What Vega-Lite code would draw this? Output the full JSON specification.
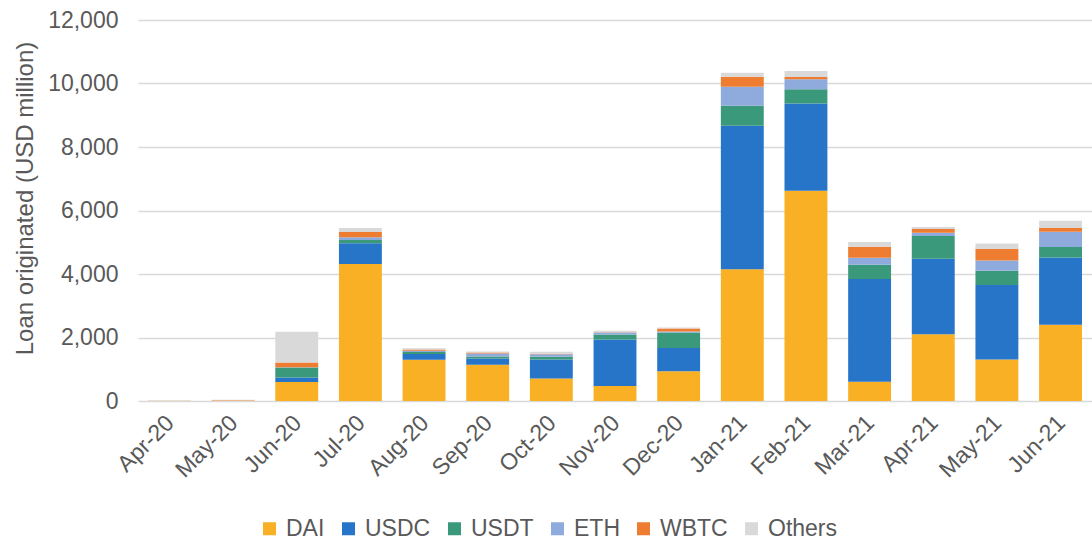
{
  "$schema": "https://vega.github.io/schema/vega-lite/v6.json",
  "autosize": {"type": "none"},
  "padding": {"left": 138, "top": 20, "right": 0, "bottom": 141},
  "width": 954,
  "height": 381,
  "background": "white",
  "config": {
    "view": {"stroke": null},
    "font": "Liberation Sans",
    "axis": {"labelFont": "Liberation Sans", "titleFont": "Liberation Sans", "labelColor": "#595959", "titleColor": "#595959"},
    "legend": {"labelFont": "Liberation Sans"}
  },
  "data": {
    "values": [
      {"month": "Apr-20", "DAI": 5, "USDC": 0, "USDT": 0, "ETH": 0, "WBTC": 0, "Others": 15},
      {"month": "May-20", "DAI": 5, "USDC": 0, "USDT": 0, "ETH": 0, "WBTC": 15, "Others": 20},
      {"month": "Jun-20", "DAI": 600, "USDC": 137, "USDT": 316, "ETH": 10, "WBTC": 150, "Others": 970},
      {"month": "Jul-20", "DAI": 4315, "USDC": 650, "USDT": 105, "ETH": 85, "WBTC": 170, "Others": 125},
      {"month": "Aug-20", "DAI": 1300, "USDC": 180, "USDT": 60, "ETH": 45, "WBTC": 40, "Others": 35},
      {"month": "Sep-20", "DAI": 1140, "USDC": 200, "USDT": 60, "ETH": 100, "WBTC": 30, "Others": 30},
      {"month": "Oct-20", "DAI": 710, "USDC": 600, "USDT": 85, "ETH": 75, "WBTC": 15, "Others": 70},
      {"month": "Nov-20", "DAI": 470, "USDC": 1470, "USDT": 155, "ETH": 60, "WBTC": 10, "Others": 45},
      {"month": "Dec-20", "DAI": 940, "USDC": 730, "USDT": 490, "ETH": 30, "WBTC": 95, "Others": 30},
      {"month": "Jan-21", "DAI": 4150, "USDC": 4520, "USDT": 630, "ETH": 600, "WBTC": 315, "Others": 125},
      {"month": "Feb-21", "DAI": 6620, "USDC": 2750, "USDT": 450, "ETH": 315, "WBTC": 70, "Others": 190},
      {"month": "Mar-21", "DAI": 610, "USDC": 3230, "USDT": 450, "ETH": 220, "WBTC": 350, "Others": 150},
      {"month": "Apr-21", "DAI": 2100, "USDC": 2380, "USDT": 715, "ETH": 105, "WBTC": 115, "Others": 65},
      {"month": "May-21", "DAI": 1310, "USDC": 2340, "USDT": 450, "ETH": 325, "WBTC": 365, "Others": 170},
      {"month": "Jun-21", "DAI": 2400, "USDC": 2120, "USDT": 330, "ETH": 480, "WBTC": 115, "Others": 230}
    ]
  },
  "transform": [
    {"fold": ["DAI", "USDC", "USDT", "ETH", "WBTC", "Others"], "as": ["token", "value"]},
    {"calculate": "indexof(['DAI','USDC','USDT','ETH','WBTC','Others'], datum.token)", "as": "stackOrder"}
  ],
  "mark": {"type": "bar"},
  "encoding": {
    "x": {
      "field": "month", "type": "ordinal", "sort": null,
      "scale": {"paddingInner": 0.326, "paddingOuter": 0.157},
      "axis": {
        "title": null, "domain": false, "ticks": false,
        "labelAngle": -45, "labelAlign": "right", "labelBaseline": "middle",
        "labelFontSize": 23, "labelPadding": 18, "labelOffset": 1
      }
    },
    "y": {
      "field": "value", "type": "quantitative", "stack": "zero",
      "scale": {"domain": [0, 12000], "nice": false},
      "axis": {
        "title": "Loan originated (USD million)",
        "values": [0, 2000, 4000, 6000, 8000, 10000, 12000],
        "format": ",.0f",
        "domain": false, "ticks": false,
        "labelFontSize": 23, "labelPadding": 20,
        "gridColor": "#d9d9d9", "gridWidth": 1.5,
        "titleFontSize": 24, "titleFontWeight": "normal",
        "titleX": -113, "titleY": 178, "titleAngle": -90,
        "titleAlign": "center", "titleBaseline": "middle"
      }
    },
    "color": {
      "field": "token", "type": "nominal",
      "sort": ["DAI", "USDC", "USDT", "ETH", "WBTC", "Others"],
      "scale": {
        "domain": ["DAI", "USDC", "USDT", "ETH", "WBTC", "Others"],
        "range": ["#F9B024", "#2675C9", "#3B997B", "#8FAADC", "#EE7D31", "#D9D9D9"]
      },
      "legend": {
        "title": null, "orient": "none", "direction": "horizontal",
        "legendX": 120, "legendY": 497,
        "symbolType": "square", "symbolSize": 169, "symbolStrokeWidth": 0,
        "labelFontSize": 23, "labelColor": "#595959", "labelOffset": 5,
        "columnPadding": 12
      }
    },
    "order": {"field": "stackOrder", "type": "quantitative", "sort": "ascending"}
  }
}
